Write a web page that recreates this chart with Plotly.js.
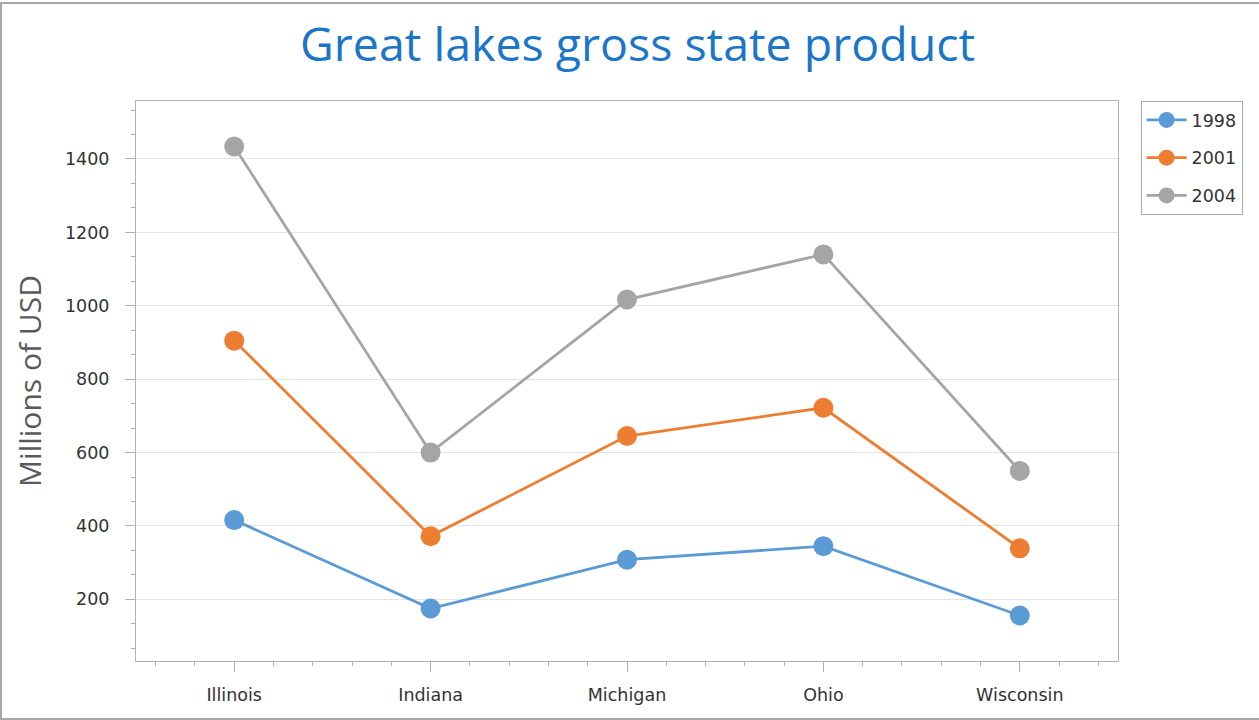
<!DOCTYPE html>
<html>
<head>
<meta charset="utf-8">
<script src="https://cdn.plot.ly/plotly-3.0.1.min.js"></script>
<style>
  html, body { margin: 0; padding: 0; background: #fff; }
  #wrap { position: relative; width: 1259px; height: 720px; }
  #chart { position: absolute; left: 0; top: 0; width: 1259px; height: 720px; }
  #frame { position: absolute; left: 0; top: 2px; width: 1259px; height: 718px; box-sizing: border-box;
           border-top: 2px solid #a8a8a8; border-left: 2px solid #a8a8a8; border-bottom: 2px solid #a8a8a8; pointer-events: none; }
</style>
</head>
<body>
<div id="wrap">
  <div id="chart"></div>
  <div id="frame"></div>
</div>
<script>
const categories = ["Illinois", "Indiana", "Michigan", "Ohio", "Wisconsin"];
const seriesNames = ["1998", "2001", "2004"];
const values1998 = [416, 175, 308, 345, 156];
const values2001 = [905, 372, 645, 722, 339];
const values2004 = [1434, 600, 1017, 1140, 550];
const seriesColors = ["#5B9BD5", "#ED7D31", "#A5A5A5"];
const yTickValues = [200, 400, 600, 800, 1000, 1200, 1400];

const positions = categories.map((c, i) => i);
const allValues = [values1998, values2001, values2004];

const traces = allValues.map((vals, k) => ({
  type: "scatter",
  mode: "lines+markers",
  name: seriesNames[k],
  legendgroup: seriesNames[k],
  x: positions,
  y: vals,
  line: { color: seriesColors[k], width: 2.8 },
  marker: { color: seriesColors[k], size: 20 }
}));

const axisColor = "#b0b0b0";
const tickFont = { family: "DejaVu Sans", size: 17.5, color: "#333" };
const layout = {
  width: 1259, height: 720,
  paper_bgcolor: "#ffffff", plot_bgcolor: "#ffffff",
  margin: { l: 136, r: 141, t: 101, b: 59 },
  title: {
    text: "Great lakes gross state product",
    font: { family: "Open Sans", size: 46.5, color: "#1b75c9" },
    x: 0.5064, xanchor: "center", y: 0.938, yanchor: "middle"
  },
  showlegend: true,
  legend: {
    x: 1.023, xanchor: "left", y: 1, yanchor: "top",
    bgcolor: "#ffffff", bordercolor: "#a8a8a8", borderwidth: 1,
    font: { family: "DejaVu Sans", size: 17.5, color: "#333" },
    traceorder: "grouped", tracegroupgap: 12, itemwidth: 40
  },
  xaxis: {
    type: "linear",
    range: [-0.5, 4.5],
    tickvals: positions, ticktext: categories,
    showgrid: false, zeroline: false,
    showline: true, linecolor: axisColor, linewidth: 1, mirror: true,
    ticks: "outside", ticklen: 10, tickcolor: axisColor, tickwidth: 1,
    ticklabelstandoff: 8,
    tickfont: tickFont,
    minor: { dtick: 0.2, ticks: "outside", ticklen: 4, tickcolor: axisColor, showgrid: false }
  },
  yaxis: {
    range: [32, 1558],
    tickvals: yTickValues,
    showgrid: true, gridcolor: "#e3e3e3", gridwidth: 1, zeroline: false,
    showline: true, linecolor: axisColor, linewidth: 1, mirror: true,
    ticks: "outside", ticklen: 10, tickcolor: axisColor, tickwidth: 1,
    ticklabelstandoff: 12,
    tickfont: tickFont,
    minor: { dtick: 200 / 3, tick0: 0, ticks: "outside", ticklen: 4, tickcolor: axisColor, showgrid: false },
    title: { text: "Millions of USD", font: { family: "Open Sans", size: 30, color: "#5a5a5a" }, standoff: 14 }
  }
};

Plotly.newPlot("chart", traces, layout, { displayModeBar: false, staticPlot: true });
</script>
</body>
</html>
